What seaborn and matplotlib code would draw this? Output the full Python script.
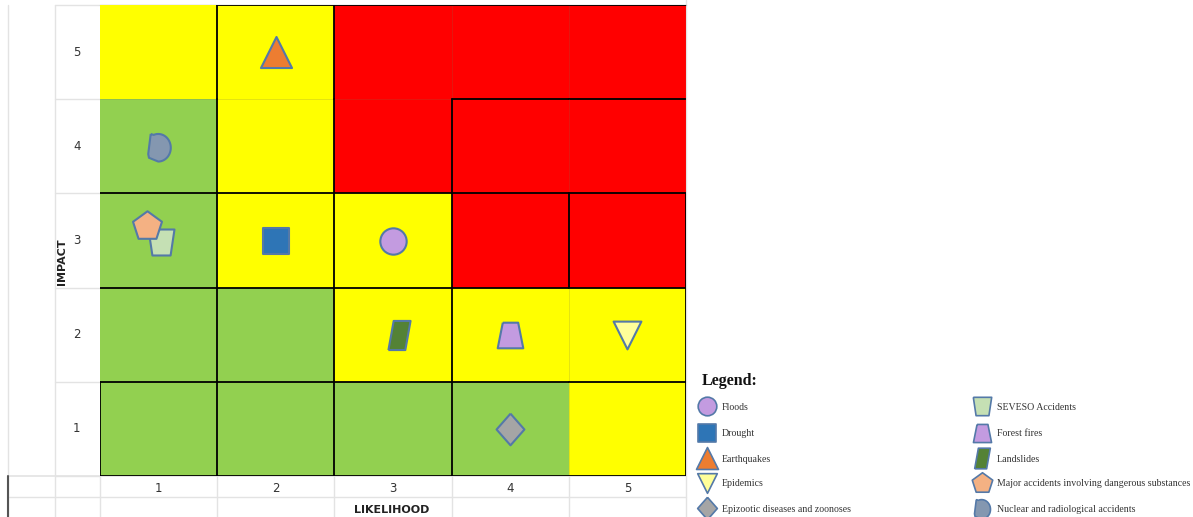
import numpy as np
import matplotlib
matplotlib.use("Agg")
import matplotlib.pyplot as plt
from matplotlib.colors import ListedColormap
import seaborn as sns

# ---- data -------------------------------------------------------------
likelihood_labels = ["1", "2", "3", "4", "5"]
impact_labels = ["5", "4", "3", "2", "1"]          # top row first

# risk level per cell: 0 = low (green), 1 = medium (yellow), 2 = high (red)
risk_levels = [
    [1, 1, 2, 2, 2],
    [0, 1, 2, 2, 2],
    [0, 1, 1, 2, 2],
    [0, 0, 1, 1, 1],
    [0, 0, 0, 0, 1],
]

# merged cell groups (borders are drawn between different groups)
cell_groups = [
    [1, 2, 3, 3, 3],
    [1, 2, 3, 4, 4],
    [5, 6, 7, 8, 9],
    [10, 11, 12, 13, 13],
    [14, 15, 16, 17, 17],
]

hazards = ["Floods", "Drought", "Earthquakes", "Epidemics",
           "Epizootic diseases and zoonoses", "SEVESO Accidents",
           "Forest fires", "Landslides",
           "Major accidents involving dangerous substances",
           "Nuclear and radiological accidents"]
hazard_likelihood = [3, 2, 2, 5, 4, 1, 4, 3, 1, 1]
hazard_impact = [3, 3, 5, 2, 1, 3, 2, 2, 3, 4]

# ---- styling ----------------------------------------------------------
GREEN, YELLOW, RED = "#92D050", "#FFFF00", "#FF0000"
EDGE = "#5479A8"

trapezoid_up = [(-0.3, 0.5), (0.3, 0.5), (0.5, -0.5), (-0.5, -0.5), (-0.3, 0.5)]
trapezoid_down = [(-0.5, 0.5), (0.5, 0.5), (0.35, -0.5), (-0.35, -0.5), (-0.5, 0.5)]
parallelogram = [(-0.38, -0.5), (0.2, -0.5), (0.38, 0.5), (-0.2, 0.5), (-0.38, -0.5)]
_t = np.linspace(np.pi * 0.62, -np.pi * 0.5, 30)
blob = [(-0.35, 0.5)] + [(-0.05 + 0.5 * np.cos(a), -0.05 + 0.55 * np.sin(a)) for a in _t] \
       + [(-0.42, -0.45), (-0.45, -0.3), (-0.35, 0.5)]
thin_diamond = [(0, 0.5), (0.44, 0), (0, -0.5), (-0.44, 0), (0, 0.5)]

marker_style = {
    "Floods": dict(marker="o", color="#C39BE0", size=360),
    "Drought": dict(marker="s", color="#2E75B6", size=350),
    "Earthquakes": dict(marker="^", color="#ED7D31", size=500),
    "Epidemics": dict(marker="v", color="#FFFF99", size=400),
    "Epizootic diseases and zoonoses": dict(marker=thin_diamond, color="#A5A5A5", size=520),
    "SEVESO Accidents": dict(marker=trapezoid_down, color="#C5E0B4", size=350),
    "Forest fires": dict(marker=trapezoid_up, color="#C39BE0", size=340),
    "Landslides": dict(marker=parallelogram, color="#548235", size=440),
    "Major accidents involving dangerous substances": dict(marker="p", color="#F4B183", size=480),
    "Nuclear and radiological accidents": dict(marker=blob, color="#8497B0", size=470),
}
# small shifts so shapes sharing a cell do not cover each other
marker_shift = {
    "Major accidents involving dangerous substances": (-0.1, -0.15),
    "SEVESO Accidents": (0.02, 0.02),
    "Landslides": (0.05, 0.0),
}

W, H = 1193, 517
fig = plt.figure(figsize=(W / 100, H / 100), dpi=100)
sns.set_style("white")

# background sheet in pixel coordinates (grid lines, labels, legend)
bg = fig.add_axes([0, 0, 1, 1], zorder=0)
bg.set_xlim(0, W)
bg.set_ylim(H, 0)
bg.axis("off")

X0, X1, Y0, Y1 = 100, 686, 5, 476
ax = fig.add_axes([X0 / W, (H - Y1) / H, (X1 - X0) / W, (Y1 - Y0) / H], zorder=2)
ax.patch.set_alpha(0)

# spreadsheet grid lines
grid_c = "#E3E3E3"
col_edges = np.linspace(X0, X1, 6)
row_edges = np.linspace(Y0, Y1, 6)
for yy in row_edges:
    bg.plot([55, X0], [yy, yy], color=grid_c, lw=1)
for xx in [8, 55]:
    bg.plot([xx, xx], [Y0, H], color=grid_c, lw=1)
for xx in col_edges:
    bg.plot([xx, xx], [Y1, H], color=grid_c, lw=1)
bg.plot([X1, X1], [0, Y1], color=grid_c, lw=1)
bg.plot([8, X1], [Y1, Y1], color=grid_c, lw=1.2)
bg.plot([8, X1], [497, 497], color=grid_c, lw=1)
bg.plot([8, 8], [Y1, H], color="#555555", lw=1.5)
bg.plot([X0, X1], [Y0, Y0], color="#BBBBBB", lw=1)

# heat map of risk levels
sns.heatmap(np.array(risk_levels), cmap=ListedColormap([GREEN, YELLOW, RED]),
            vmin=-0.5, vmax=2.5, cbar=False, ax=ax, linewidths=0,
            xticklabels=likelihood_labels, yticklabels=impact_labels)

# cell borders
groups = np.array(cell_groups)
nr, nc = groups.shape
for r in range(nr):
    for c in range(nc):
        if c + 1 < nc:
            same = groups[r, c] == groups[r, c + 1]
            ax.plot([c + 1, c + 1], [r, r + 1], color="#7A7A50" if same else "black",
                    lw=0.4 if same else 1.3, alpha=0.35 if same else 1, zorder=3)
        if r + 1 < nr:
            same = groups[r, c] == groups[r + 1, c]
            ax.plot([c, c + 1], [r + 1, r + 1], color="#7A7A50" if same else "black",
                    lw=0.4 if same else 1.3, alpha=0.35 if same else 1, zorder=3)
ax.plot([1, 5], [0, 0], color="black", lw=1.3, zorder=3)
ax.plot([0, 5], [5, 5], color="black", lw=1.3, zorder=3)
ax.plot([0, 0], [4, 5], color="black", lw=1.3, zorder=3)
ax.plot([5, 5], [2, 5], color="black", lw=1.3, zorder=3)
ax.plot([5, 5], [0, 2], color="#999999", lw=0.8, zorder=3)

# hazard markers
for name, lk, im in zip(hazards, hazard_likelihood, hazard_impact):
    st = marker_style[name]
    dx, dy = marker_shift.get(name, (0, 0))
    xc = likelihood_labels.index(str(lk)) + 0.5 + dx
    yc = impact_labels.index(str(im)) + 0.5 + dy
    ax.scatter([xc], [yc], marker=st["marker"], s=st["size"], c=st["color"],
               edgecolors=EDGE, linewidths=1.5, zorder=5)

ax.set_xlim(0, 5)
ax.set_ylim(5, 0)
ax.tick_params(axis="both", length=0, labelsize=8.5, labelcolor="#333333")
ax.tick_params(axis="x", pad=4)
ax.tick_params(axis="y", pad=14)
ax.set_xlabel("")
ax.set_ylabel("")
plt.setp(ax.get_yticklabels(), rotation=0)
for sp in ax.spines.values():
    sp.set_visible(False)

bg.text(62, 262, "IMPACT", rotation=90, ha="center", va="center",
        fontsize=8, fontweight="bold", color="#222222")
bg.text((X0 + X1) / 2 - 1, 510, "LIKELIHOOD", ha="center", va="center",
        fontsize=8, fontweight="bold", color="#222222")

# legend
serif = "Liberation Serif"
bg.text(702, 381, "Legend:", fontsize=11.5, fontweight="bold", family=serif,
        ha="left", va="center", color="#111111")
legend_cols = [hazards[:5], hazards[5:]]
legend_x = [707, 982]
legend_y = [406, 433, 458, 483, 508]
for col, mx in zip(legend_cols, legend_x):
    for name, my in zip(col, legend_y):
        st = marker_style[name]
        bg.scatter([mx], [my], marker=st["marker"], s=st["size"] * 0.5, c=st["color"],
                   edgecolors=EDGE, linewidths=1.2, zorder=3)
        bg.text(mx + 15, my + 1, name, fontsize=7.1, family=serif, ha="left",
                va="center", color="#333333")

fig.savefig("out.png", dpi=100)
